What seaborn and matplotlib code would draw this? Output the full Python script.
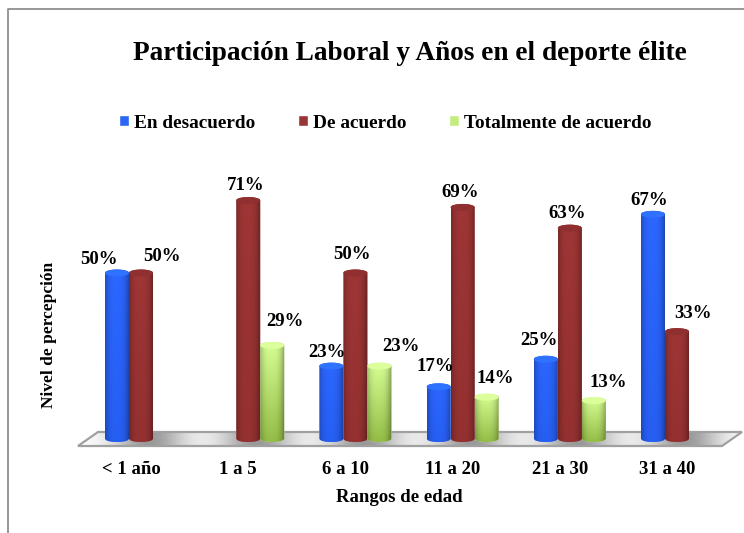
import numpy as np
import pandas as pd
import seaborn as sns
import matplotlib
matplotlib.use("Agg")
import matplotlib.pyplot as plt
from matplotlib.path import Path
from matplotlib.patches import PathPatch, Polygon
from matplotlib.transforms import ScaledTranslation

categories = ["< 1 año", "1 a 5", "6 a 10", "11 a 20", "21 a 30", "31 a 40"]
series_names = ["En desacuerdo", "De acuerdo", "Totalmente de acuerdo"]
en_desacuerdo = [50, np.nan, 23, 17, 25, 67]
de_acuerdo = [50, 71, 50, 69, 63, 33]
totalmente = [np.nan, 29, 23, 14, 13, np.nan]

# label offsets from the bar's top centre, in pixels (dx, dy up)
label_offsets = {
    (0, 0): (-18, 10), (0, 1): (21, 13),
    (1, 1): (-3, 12), (1, 2): (13, 20),
    (2, 0): (-4, 10), (2, 1): (-3, 15), (2, 2): (22, 16),
    (3, 0): (-3, 17), (3, 1): (-2, 11), (3, 2): (9, 15),
    (4, 0): (-7, 15), (4, 1): (-3, 11), (4, 2): (14, 15),
    (5, 0): (-4, 10), (5, 1): (16, 15),
}

W, H = 744, 533
FONT = "Liberation Serif"
sns.set_theme(style="white")
plt.rcParams["font.family"] = [FONT, "DejaVu Serif"]
plt.rcParams["font.weight"] = "bold"
plt.rcParams["text.color"] = "black"

fig = plt.figure(figsize=(W / 100, H / 100), dpi=100, facecolor="white")

# background layer in pixel coordinates: frame and floor
bg = fig.add_axes([0, 0, 1, 1])
bg.set_xlim(0, W)
bg.set_ylim(H, 0)
bg.axis("off")
bg.plot([8, 8, W], [H, 9, 9], color="#8f8f8f", lw=1.3)

# main axes: left/right edges match the floor, 100 units = 345 px
left, right, base, top = 78, 722, 442, 97
ax = fig.add_axes([left / W, 1 - base / H, (right - left) / W, (base - top) / H])
ax.patch.set_alpha(0)

df = pd.DataFrame({
    "cat": categories * 3,
    "serie": np.repeat(series_names, len(categories)),
    "valor": en_desacuerdo + de_acuerdo + totalmente,
})
palette = dict(zip(series_names, ["#2b66f5", "#983535", "#c4ec80"]))
sns.barplot(data=df, x="cat", y="valor", hue="serie", hue_order=series_names,
            order=categories, palette=palette, width=0.672, saturation=1,
            dodge=True, legend=True, ax=ax, errorbar=None)
ax.set_xlim((left - 141) / 107.2, (right - 141) / 107.2)
ax.set_ylim(0, 100)
xlim, ylim = ax.get_xlim(), ax.get_ylim()

shades = {
    0: (np.array([0.17, 0.40, 1.00]), np.array([0.15, 0.37, 0.95])),
    1: (np.array([0.62, 0.21, 0.21]), np.array([0.58, 0.19, 0.19])),
    2: (np.array([0.84, 1.00, 0.58]), np.array([0.58, 0.74, 0.28])),
}
top_colors = {0: "#2f72ff", 1: "#8f2f2f", 2: "#dcff9c"}
RY = 1.0  # ellipse half height in data units


def cylinder(x0, w, h):
    t = np.linspace(0, np.pi, 30)
    cx, rx = x0 + w / 2, w / 2
    low = np.c_[cx - rx * np.cos(t), RY - RY * np.sin(t)]
    up = np.c_[cx + rx * np.cos(t), h - RY + RY * np.sin(t)]
    pts = np.vstack([low, up, low[:1]])
    return Path(pts)


for s_i, cont in enumerate(ax.containers):
    for bar in cont:
        h = bar.get_height()
        if not np.isfinite(h) or h <= 0:
            bar.set_visible(False)
            continue
        x0, w = bar.get_x(), bar.get_width()
        c_i = int(round(x0 + w / 2))
        path = PathPatch(cylinder(x0, w, h), transform=ax.transData, fc="none", ec="none")
        ax.add_patch(path)
        bar.set_clip_path(path)
        # cylinder shading
        u = np.linspace(0, 1, 40)
        v = np.linspace(0, 1, 40)
        fx = 1 - 0.38 * np.abs((u - 0.46) / 0.54) ** 3
        top_c, bot_c = shades[s_i]
        img = (v[:, None, None] * top_c + (1 - v[:, None, None]) * bot_c) * fx[None, :, None]
        im = ax.imshow(np.clip(img, 0, 1), extent=(x0, x0 + w, 0, h), origin="lower",
                       aspect="auto", zorder=3, interpolation="bilinear")
        im.set_clip_path(path)
        # top cap
        t = np.linspace(0, 2 * np.pi, 60)
        cap = np.c_[x0 + w / 2 + w / 2 * np.cos(t), h - RY + RY * np.sin(t)]
        ax.add_patch(Polygon(cap, closed=True, fc=top_colors[s_i], ec="none", zorder=4))
        # value label
        dx, dy = label_offsets[(c_i, s_i)]
        ax.annotate(f"{h:.0f}%", (x0 + w / 2, h), xytext=(dx, dy),
                    textcoords="offset pixels", ha="center", va="center",
                    fontsize=13.5, fontweight="bold", color="black", zorder=6,
                    annotation_clip=False)
ax.set_xlim(xlim)
ax.set_ylim(ylim)

# floor with soft shadows beside the bars
floor = [(78, 446), (98, 432), (742, 432), (722, 446)]
centers = [141 + 107.2 * i for i in range(len(categories))]
px = np.arange(78, 743)
shade = np.full(px.shape, 1.0)
for c in centers:
    shade -= 0.40 * np.exp(-((px - c - 8) / 36.0) ** 2)
strip = np.clip(shade, 0, 1)[None, :]
poly = Polygon(floor, closed=True, fc="none", ec="#a0a0a0", lw=1.6, transform=bg.transData, zorder=3)
im = bg.imshow(strip, extent=(78, 742, 446, 432), cmap="gray", vmin=0, vmax=1, aspect="auto", zorder=2)
bg.add_patch(poly)
im.set_clip_path(poly)
bg.set_xlim(0, W)
bg.set_ylim(H, 0)

# axes dressing
sns.despine(ax=ax, left=True, bottom=True)
ax.set_yticks([])
ax.set_xticks(range(len(categories)))
ax.set_xticklabels(categories, fontsize=13.5, fontweight="bold", color="black")
ax.tick_params(axis="x", length=0, pad=14)
shift = ScaledTranslation(-10 / 100, 0, fig.dpi_scale_trans)
for lab in ax.get_xticklabels():
    lab.set_transform(lab.get_transform() + shift)

ax.set_xlabel("")
ax.set_ylabel("")
fig.text(399 / W, 1 - 498 / H, "Rangos de edad", ha="center", va="center",
         fontsize=13.5, fontweight="bold", color="black")
fig.text(49 / W, 1 - 335 / H, "Nivel de percepción", rotation=90, ha="center", va="center",
         fontsize=12.5, fontweight="bold", color="black")
fig.text(410 / W, 1 - 53 / H, "Participación Laboral y Años en el deporte élite",
         ha="center", va="center", fontsize=19.6, fontweight="bold", color="black")

handles, labels = ax.get_legend_handles_labels()
leg = ax.legend(handles, labels, ncol=3, frameon=False, loc="center",
                bbox_to_anchor=(385 / W, 1 - 123 / H), bbox_transform=fig.transFigure,
                prop={"family": FONT, "weight": "bold", "size": 13.9},
                labelcolor="black",
                handlelength=0.52, handleheight=0.52, handletextpad=0.26,
                columnspacing=2.2, borderpad=0, labelspacing=0)

fig.savefig("out.png", dpi=100, facecolor="white")
